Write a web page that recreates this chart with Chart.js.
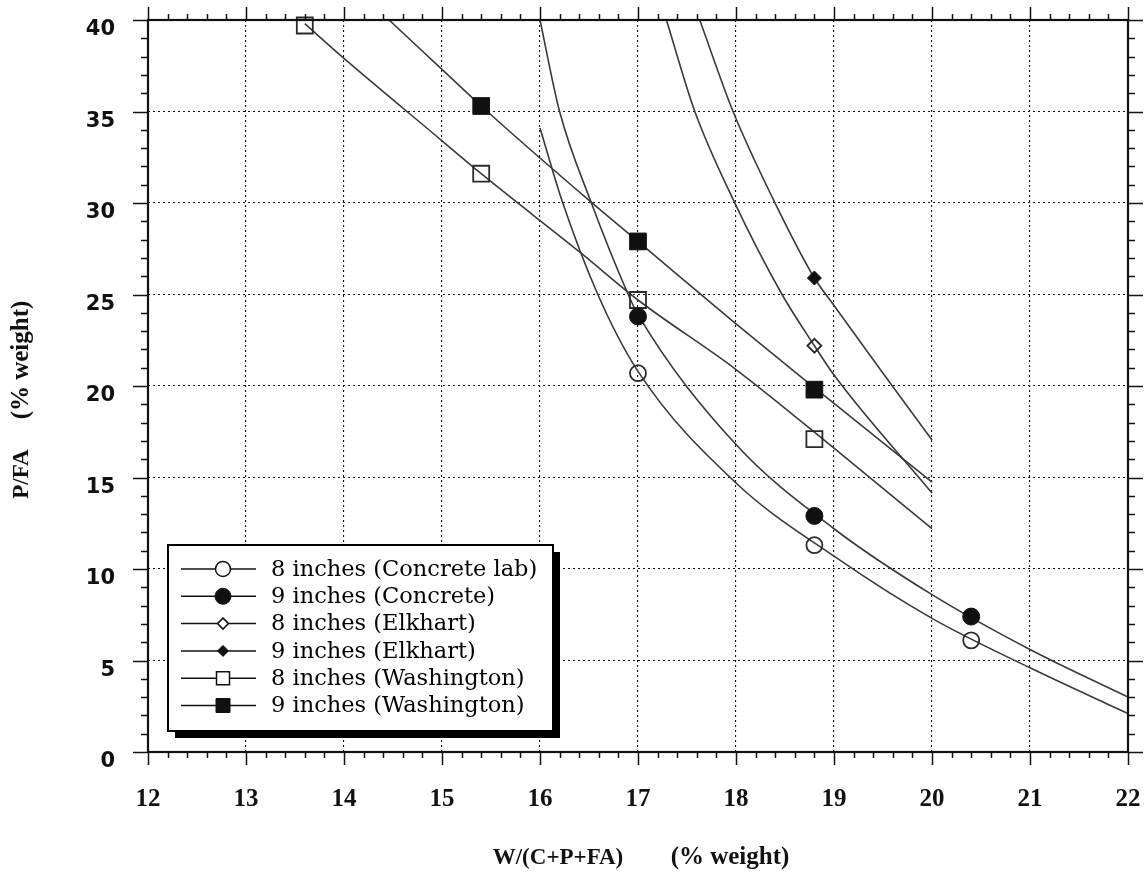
<!DOCTYPE html>
<html><head><meta charset="utf-8">
<script src="https://cdn.jsdelivr.net/npm/chart.js@4.4.1/dist/chart.umd.min.js"></script>
<style>html,body{margin:0;padding:0;background:#fff;}canvas{display:block;}</style>
</head><body>
<canvas id="c" width="1148" height="876"></canvas>
<script>
// ---- tick labels ----
const xTicks = [12, 13, 14, 15, 16, 17, 18, 19, 20, 21, 22];
const yTicks = [0, 5, 10, 15, 20, 25, 30, 35, 40];
const xTitleParts = ['W/(C+P+FA)', '(% weight)'];
const yTitleParts = ['P/FA', '(% weight)'];

// ---- series names ----
const seriesNames = ['8 inches (Concrete lab)', '9 inches (Concrete)', '8 inches (Elkhart)',
                     '9 inches (Elkhart)', '8 inches (Washington)', '9 inches (Washington)'];

// ---- measured points (markers) ----
const labX = [17.0, 18.8, 20.4];
const labY = [20.7, 11.3, 6.1];
const conc9X = [17.0, 18.8, 20.4];
const conc9Y = [23.8, 12.9, 7.4];
const elk8X = [18.8];
const elk8Y = [22.2];
const elk9X = [18.8];
const elk9Y = [25.9];
const wash8X = [13.6, 15.4, 17.0, 18.8];
const wash8Y = [39.7, 31.6, 24.7, 17.1];
const wash9X = [15.4, 17.0, 18.8];
const wash9Y = [35.3, 27.9, 19.8];

// ---- fitted curves ----
const labFitX = [16.0, 16.22, 16.59, 17.0, 18.0, 19.0, 20.0, 21.0, 22.0];
const labFitY = [34.1, 30.2, 25.0, 20.8, 14.7, 10.7, 7.3, 4.6, 2.1];
const conc9FitX = [16.0, 16.2, 16.51, 16.9, 17.0, 18.0, 19.0, 20.0, 21.0, 22.0];
const conc9FitY = [40.0, 35.0, 30.2, 25.0, 23.9, 16.8, 12.2, 8.6, 5.6, 3.0];
const elk8FitX = [17.29, 17.58, 17.97, 18.47, 18.8, 19.0, 20.0];
const elk8FitY = [40.0, 35.0, 30.2, 25.0, 22.2, 20.6, 14.15];
const elk9FitX = [17.63, 17.97, 18.38, 18.8, 19.0, 19.5, 20.0];
const elk9FitY = [40.0, 35.0, 30.2, 25.9, 24.4, 20.7, 17.05];
const wash8FitX = [13.6, 14.0, 15.0, 15.4, 16.41, 17.0, 18.0, 19.0, 20.0];
const wash8FitY = [39.8, 37.9, 33.4, 31.6, 27.3, 24.7, 20.9, 16.6, 12.2];
const wash9FitX = [14.46, 15.0, 15.4, 16.51, 17.0, 18.0, 18.8, 19.0, 20.0];
const wash9FitY = [40.0, 37.3, 35.3, 30.1, 27.9, 23.4, 19.9, 19.05, 14.75];

const pts = (xs, ys) => xs.map((x, i) => ({x: x, y: ys[i]}));

// marker styles (style, not data)
const markerStyles = [
  {shape: 'circle', filled: false, r: 8},
  {shape: 'circle', filled: true, r: 8.5},
  {shape: 'rectRot', filled: false, r: 7},
  {shape: 'rectRot', filled: true, r: 7},
  {shape: 'rect', filled: false, r: 11.3},
  {shape: 'rect', filled: true, r: 11.8}
];
const markerData = [pts(labX, labY), pts(conc9X, conc9Y), pts(elk8X, elk8Y),
                    pts(elk9X, elk9Y), pts(wash8X, wash8Y), pts(wash9X, wash9Y)];
const fitData = [pts(labFitX, labFitY), pts(conc9FitX, conc9FitY), pts(elk8FitX, elk8FitY),
                 pts(elk9FitX, elk9FitY), pts(wash8FitX, wash8FitY), pts(wash9FitX, wash9FitY)];

const datasets = [];
markerData.forEach((d, i) => {
  const s = markerStyles[i];
  datasets.push({
    label: seriesNames[i], data: d, showLine: false,
    pointStyle: s.shape, pointRadius: s.r, pointHoverRadius: s.r,
    pointBackgroundColor: s.filled ? '#111' : 'rgba(255,255,255,0)',
    pointBorderColor: s.filled ? '#111' : '#2a2a2a',
    pointBorderWidth: s.filled ? 1 : 1.8,
    clip: 14
  });
});
fitData.forEach((d, i) => {
  datasets.push({
    label: seriesNames[i] + ' fit', data: d, showLine: true,
    borderColor: '#3a3a3a', borderWidth: 1.6, pointRadius: 0,
    cubicInterpolationMode: 'monotone', fill: false
  });
});

const framePlugin = {
  id: 'frame',
  afterDraw(chart) {
    const {ctx, chartArea: a, scales: {x, y}} = chart;
    ctx.save();
    ctx.strokeStyle = '#111';
    ctx.lineWidth = 1.5;
    ctx.beginPath();
    for (let k = 0; k <= 50; k++) {
      const v = 12 + k * 0.2;
      const px = Math.round(x.getPixelForValue(v)) + 0.5;
      const L = (k % 5 === 0) ? 13 : 6;
      ctx.moveTo(px, a.bottom); ctx.lineTo(px, a.bottom + L);
      ctx.moveTo(px, a.top); ctx.lineTo(px, a.top - L);
    }
    for (let v = 0; v <= 40; v++) {
      const py = Math.round(y.getPixelForValue(v)) + 0.5;
      const L = (v % 5 === 0) ? 15 : 7;
      ctx.moveTo(a.left - L, py); ctx.lineTo(a.left, py);
      ctx.moveTo(a.right, py); ctx.lineTo(a.right + L, py);
    }
    ctx.stroke();
    ctx.lineWidth = 2.2;
    ctx.strokeRect(a.left, a.top, a.right - a.left, a.bottom - a.top);

    // axis titles
    ctx.fillStyle = '#111';
    ctx.textAlign = 'center';
    ctx.textBaseline = 'middle';
    ctx.font = 'bold 23px "Liberation Serif"';
    ctx.fillText(xTitleParts[0], 558, 858);
    ctx.font = 'bold 25px "Liberation Serif"';
    ctx.fillText(xTitleParts[1], 730, 858);
    ctx.translate(22, 0);
    ctx.rotate(-Math.PI / 2);
    ctx.font = 'bold 23px "Liberation Serif"';
    ctx.fillText(yTitleParts[0], -474, 0);
    ctx.font = 'bold 25px "Liberation Serif"';
    ctx.fillText(yTitleParts[1], -360, 0);
    ctx.restore();
  }
};

function drawMarker(ctx, s, cx, cy, r) {
  ctx.beginPath();
  if (s.shape === 'circle') {
    ctx.arc(cx, cy, r, 0, Math.PI * 2);
  } else if (s.shape === 'rectRot') {
    ctx.moveTo(cx, cy - r); ctx.lineTo(cx + r, cy); ctx.lineTo(cx, cy + r); ctx.lineTo(cx - r, cy); ctx.closePath();
  } else {
    ctx.rect(cx - r, cy - r, 2 * r, 2 * r);
  }
  if (s.filled) { ctx.fillStyle = '#111'; ctx.fill(); }
  else { ctx.fillStyle = '#fff'; ctx.fill(); }
  ctx.lineWidth = s.filled ? 1 : 1.5;
  ctx.strokeStyle = '#111';
  ctx.stroke();
}

const legendPlugin = {
  id: 'boxLegend',
  afterDraw(chart) {
    const ctx = chart.ctx;
    const L = 168, T = 545, W = 385, H = 186, S = 7;
    ctx.save();
    ctx.fillStyle = '#000';
    ctx.fillRect(L + S, T + S, W, H);
    ctx.fillStyle = '#fff';
    ctx.fillRect(L, T, W, H);
    ctx.lineWidth = 2;
    ctx.strokeStyle = '#000';
    ctx.strokeRect(L, T, W, H);
    const legR = [7.5, 8, 5.5, 5.5, 6.5, 7];
    seriesNames.forEach((name, i) => {
      const yy = T + 24 + i * 27.3;
      ctx.beginPath();
      ctx.lineWidth = 1.5;
      ctx.strokeStyle = '#111';
      ctx.moveTo(L + 13, yy); ctx.lineTo(L + 88, yy);
      ctx.stroke();
      drawMarker(ctx, markerStyles[i], L + 55, yy, legR[i]);
      ctx.fillStyle = '#000';
      ctx.font = '22.5px "DejaVu Serif"';
      ctx.textAlign = 'left';
      ctx.textBaseline = 'middle';
      ctx.fillText(name, L + 103, yy + 1);
    });
    ctx.restore();
  }
};

const zeroPad = s => { s.paddingTop = 0; s.paddingBottom = 0; s.paddingLeft = 0; s.paddingRight = 0; };

new Chart(document.getElementById('c'), {
  type: 'scatter',
  data: {datasets: datasets},
  options: {
    responsive: false,
    animation: false,
    events: [],
    layout: {autoPadding: false, padding: {left: 0, top: 20, right: 20, bottom: 0}},
    plugins: {legend: {display: false}, tooltip: {enabled: false}, title: {display: false}},
    scales: {
      x: {
        type: 'linear', min: 12, max: 22,
        afterBuildTicks: s => { s.ticks = xTicks.map(v => ({value: v})); },
        afterFit: s => { s.height = 124; zeroPad(s); },
        ticks: {color: '#111', font: {family: '"Liberation Serif"', size: 25, weight: 'bold'}, padding: 33, maxRotation: 0},
        grid: {color: '#111', lineWidth: 1.1, drawTicks: false},
        border: {display: false, dash: [2, 3]}
      },
      y: {
        type: 'linear', min: 0, max: 40,
        afterBuildTicks: s => { s.ticks = yTicks.map(v => ({value: v})); },
        afterFit: s => { s.width = 148; zeroPad(s); },
        ticks: {color: '#111', font: {family: '"DejaVu Sans"', size: 21, weight: 'bold'}, padding: 33, labelOffset: 10},
        grid: {color: '#111', lineWidth: 1.1, drawTicks: false},
        border: {display: false, dash: [2, 3]}
      }
    }
  },
  plugins: [framePlugin, legendPlugin]
});
</script>
</body></html>
